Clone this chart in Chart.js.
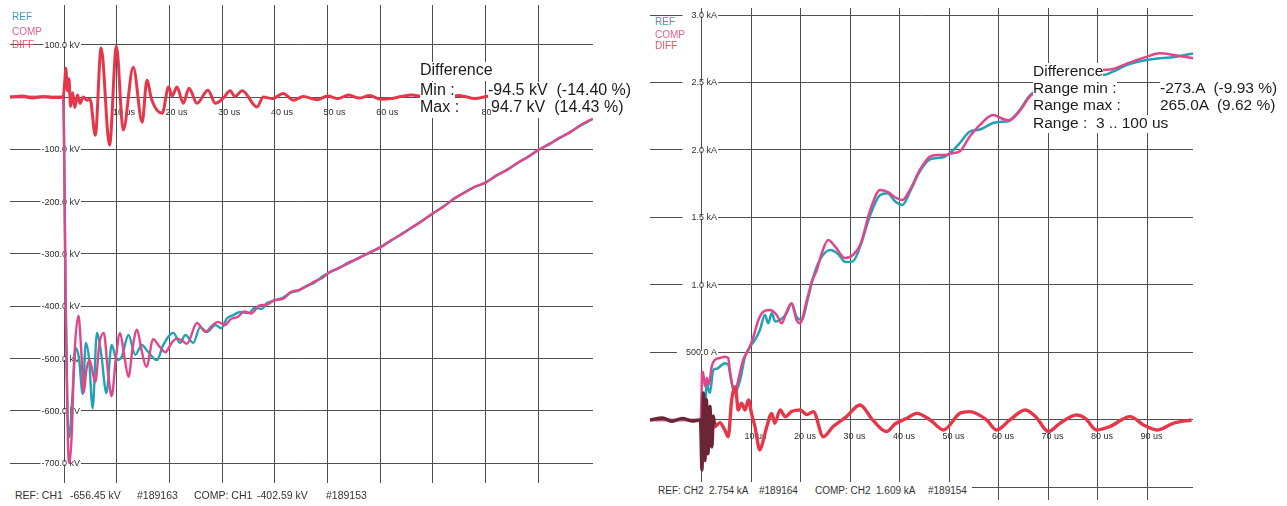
<!DOCTYPE html>
<html><head><meta charset="utf-8">
<script src="https://cdn.jsdelivr.net/npm/chart.js@4.4.1/dist/chart.umd.min.js"></script>
<style>
html,body{margin:0;padding:0;background:#fff;}
body{width:1287px;height:506px;position:relative;overflow:hidden;font-family:"Liberation Sans",Arial,sans-serif;}
canvas{position:absolute;top:0;}
.t{position:absolute;white-space:pre;}
.ann{font-size:16px;line-height:16px;color:#1c1c1c;background:#fff;padding-bottom:3px;}
.ann2{font-size:15.5px;line-height:15.5px;color:#1c1c1c;background:#fff;padding-bottom:2px;}
.foot{font-size:10.5px;line-height:12px;color:#333;background:#fff;}
.foot2{font-size:10px;line-height:12px;color:#333;}
.band{position:absolute;background:#fff;}
.leg{font-size:10px;line-height:10px;}
</style></head><body>
<canvas id="cv" width="640" height="506" style="left:0"></canvas>
<canvas id="ci" width="647" height="506" style="left:640px"></canvas>

<div class="t leg" style="left:12px;top:12px;color:#3f9dc4">REF</div>
<div class="t leg" style="left:12px;top:27px;color:#e0609a">COMP</div>
<div class="t leg" style="left:12px;top:40px;color:#e2575f">DIFF</div>
<div class="t leg" style="left:655px;top:17px;color:#3f9dc4">REF</div>
<div class="t leg" style="left:655px;top:30px;color:#e0609a">COMP</div>
<div class="t leg" style="left:655px;top:41px;color:#e2575f">DIFF</div>

<div class="t ann" style="left:420px;top:62px">Difference</div>
<div class="t ann" style="left:420px;top:82px">Min :</div>
<div class="t ann" style="left:488px;top:82px">-94.5 kV  (-14.40 %)</div>
<div class="t ann" style="left:420px;top:99px">Max :</div>
<div class="t ann" style="left:491px;top:99px">94.7 kV  (14.43 %)</div>

<div class="t ann2" style="left:1033px;top:63px">Difference</div>
<div class="t ann2" style="left:1033px;top:80px">Range min :</div>
<div class="t ann2" style="left:1160px;top:80px">-273.A  (-9.93 %)</div>
<div class="t ann2" style="left:1033px;top:97px">Range max :</div>
<div class="t ann2" style="left:1160px;top:97px">265.0A  (9.62 %)</div>
<div class="t ann2" style="left:1033px;top:115px">Range :  3 .. 100 us</div>

<div class="t foot" style="left:15px;top:489px">REF: CH1</div>
<div class="t foot" style="left:70px;top:489px">-656.45 kV</div>
<div class="t foot" style="left:137px;top:489px">#189163</div>
<div class="t foot" style="left:194px;top:489px">COMP: CH1</div>
<div class="t foot" style="left:257px;top:489px">-402.59 kV</div>
<div class="t foot" style="left:326px;top:489px">#189153</div>
<div class="band" style="left:650px;top:482px;width:322px;height:24px"></div>
<div class="t foot2" style="left:658px;top:485px">REF: CH2</div>
<div class="t foot2" style="left:709px;top:485px">2.754 kA</div>
<div class="t foot2" style="left:759px;top:485px">#189164</div>
<div class="t foot2" style="left:815px;top:485px">COMP: CH2</div>
<div class="t foot2" style="left:876px;top:485px">1.609 kA</div>
<div class="t foot2" style="left:928px;top:485px">#189154</div>

<script>
// ---------- data: left panel (voltage, kV vs time, us) ----------
const voltTimeTicks = [0,10,20,30,40,50,60,70,80,90];
const voltTimeLabels = ['', '10 us','20 us','30 us','40 us','50 us','60 us','70 us','80 us','90 us'];
const voltTicks = [100,0,-100,-200,-300,-400,-500,-600,-700];
const voltTickLabels = ['100.0 kV','','-100.0 kV','-200.0 kV','-300.0 kV','-400.0 kV','-500.0 kV','-600.0 kV','-700.0 kV'];

const refVoltage = [[-10.3,0],[-0.2,0],[0.2,-320],[0.6,-600],[1.0,-650],[1.5,-580],[2.2,-480],[2.8,-500],[3.5,-568],[4.1,-470],[4.7,-500],[5.4,-595],[6.2,-451],[7.0,-490],[8.0,-566],[9.0,-474],[10.0,-503],[10.9,-497],[12.2,-455],[13.5,-493],[14.7,-474],[15.9,-487],[17.6,-503],[18.8,-474],[20.7,-451],[22.0,-470],[23.0,-455],[24.5,-470],[25.8,-440],[27.1,-449],[28.7,-436],[29.8,-442],[30.9,-423],[32.1,-417],[33.4,-411],[35.0,-413],[36.2,-403],[37.5,-405],[38.5,-394],[40.0,-389],[41.5,-384],[43.0,-374],[44.5,-370],[46.0,-361],[47.5,-355],[49.0,-343],[50.5,-335],[52,-327],[54,-318],[56,-307],[58,-298],[60,-287],[62,-275],[64,-262],[66,-250],[68,-236],[70,-223],[72,-209],[74,-195],[76,-182],[78,-172],[80,-163],[82,-151],[84,-139],[86,-127],[88,-114],[90,-102],[92,-90],[94,-79],[96,-67],[98,-55],[100.4,-42]];

const compVoltage = [[-10.3,0],[-0.2,0],[0.3,-420],[0.7,-660],[1.0,-700],[1.4,-650],[1.9,-500],[2.7,-418],[3.2,-480],[3.7,-566],[4.2,-522],[4.8,-503],[5.9,-545],[6.7,-470],[7.5,-451],[8.3,-525],[9.0,-572],[9.8,-500],[10.6,-451],[11.4,-495],[12.2,-535],[13.0,-478],[13.8,-445],[14.7,-485],[15.6,-516],[16.9,-463],[18.0,-476],[19.2,-488],[20.4,-470],[21.4,-462],[22.3,-465],[23.3,-472],[25.2,-432],[26.8,-449],[28.0,-438],[29.2,-430],[30.5,-436],[31.6,-425],[33.0,-420],[34.2,-410],[35.5,-414],[37.0,-399],[38.5,-397],[40.0,-388],[41.5,-386],[43.0,-373],[44.5,-369],[46.0,-362],[47.5,-353],[49.0,-346],[50.5,-334],[52,-328],[54,-316],[56,-308],[58,-297],[60,-288],[62,-274],[64,-263],[66,-249],[68,-237],[70,-222],[72,-210],[74,-194],[76,-183],[78,-171],[80,-164],[82,-150],[84,-140],[86,-126],[88,-115],[90,-101],[92,-91],[94,-78],[96,-68],[98,-54],[100.4,-41]];

const diffVoltage = [[-10.3,0],[-8,2],[-6,-2],[-4,1],[-2,-1],[-0.2,0],[0.1,30],[0.3,55],[0.6,12],[0.9,35],[1.2,-18],[1.6,8],[2.0,-20],[2.5,4],[3.0,-12],[3.6,0],[4.3,-6],[4.9,-4],[5.9,-73],[7.0,94],[8.6,-92],[9.9,97],[11.2,-63],[13.1,57],[14.8,-48],[15.7,32],[16.6,-5],[18.6,-31],[19.8,19],[20.5,2],[21.4,19],[22.6,-12],[23.7,17],[25.2,-12],[27.3,13],[28.7,-12],[30.2,-2],[31.5,12],[32.4,1],[33.8,12],[36.6,-19],[37.8,0],[39.5,-3],[41.6,7],[43.5,-6],[45.4,1],[48,-5],[50,2],[52,-3],[54,4],[56,-2],[58,3],[60,-4],[62,-3],[64,1],[66,4],[68,1],[70,4],[72,-2],[75,3],[78,-3],[81,2],[84,-2],[87,3],[90,-1],[93,2],[96,-2],[100.4,1]];

// ---------- data: right panel (current, A vs time, us) ----------
const currTimeTicks = [0,10,20,30,40,50,60,70,80,90];
const currTimeLabels = ['', '10 us','20 us','30 us','40 us','50 us','60 us','70 us','80 us','90 us'];
const currTicks = [3000,2500,2000,1500,1000,500,0,-500];
const currTickLabels = ['3.0 kA','2.5 kA','2.0 kA','1.5 kA','1.0 kA','500.0 A','',''];

const refCurrent = [[-10.5,0],[-0.3,0],[0.0,-200],[0.3,150],[0.6,-100],[0.9,272],[1.6,200],[2.3,370],[3.0,380],[3.6,395],[4.6,420],[5.3,410],[6.0,272],[6.7,200],[7.7,296],[8.7,469],[9.7,543],[10.7,593],[11.7,667],[12.7,778],[13.4,716],[14.1,790],[14.8,730],[15.8,741],[17.1,790],[18.1,864],[19.1,765],[20.1,741],[21.5,914],[22.5,1062],[23.8,1185],[25.9,1259],[27.5,1230],[29.0,1170],[30.5,1175],[32,1290],[34,1519],[36,1667],[37.5,1680],[39,1620],[40.5,1593],[42,1690],[44,1840],[46,1930],[47.5,1941],[49,1950],[50.5,1990],[52.1,2052],[54.1,2136],[56,2150],[58.8,2200],[60.8,2210],[62,2215],[64.2,2296],[66.3,2407],[70,2470],[75,2520],[78,2560],[81,2555],[83,2580],[85.8,2630],[89.8,2667],[92.5,2680],[95.9,2691],[99.2,2716]];

const compCurrent = [[-10.5,0],[-0.3,0],[-0.1,150],[0.0,346],[0.2,356],[0.6,250],[1.0,310],[1.4,260],[1.96,395],[2.6,444],[3.6,459],[4.6,469],[5.3,459],[5.7,348],[6.7,200],[7.2,274],[8.3,444],[9.4,519],[10.4,617],[11.4,741],[12.4,802],[13.7,815],[15.1,778],[16.1,716],[17.1,802],[18.1,864],[19.1,741],[19.8,716],[21.2,889],[22.2,1025],[23.2,1111],[24.2,1235],[25.5,1333],[27,1280],[28.9,1200],[30.5,1222],[32,1300],[34,1556],[36,1704],[37.5,1690],[39,1650],[40.5,1630],[42,1704],[44,1852],[46,1950],[47.5,1963],[49,1963],[50.5,1975],[52.1,1990],[54.1,2100],[56,2180],[58.8,2259],[60.8,2230],[62,2220],[64.2,2290],[66.3,2400],[70,2480],[75,2500],[78,2580],[81,2593],[83,2600],[85.8,2640],[89.8,2690],[92.5,2716],[95.9,2700],[99.2,2680]];

const diffCurrent = [[-10.5,0],[-8,15],[-6,-10],[-4,12],[-2,-8],[-0.3,0],[0.0,-370],[0.3,200],[0.6,-300],[0.9,150],[1.2,-250],[1.6,100],[2.0,-200],[2.3,30],[2.6,-50],[3.6,-20],[4.6,-74],[5.3,-124],[6.0,148],[6.7,246],[7.0,173],[7.3,74],[8.0,124],[8.7,74],[9.4,148],[10.0,49],[10.7,-49],[11.7,-222],[12.4,-148],[13.1,-49],[14.1,49],[14.7,-24],[15.8,74],[16.8,24],[18.1,62],[19.8,74],[21.2,40],[22.5,62],[24.5,-124],[26.5,-49],[29.2,25],[31.9,111],[34.5,0],[37.3,-86],[39,-30],[41.4,12],[43.4,49],[46.1,0],[48.8,-74],[52.1,49],[54.1,62],[57.5,0],[59.5,-74],[62.2,0],[65.3,74],[67.5,20],[70,-86],[72.3,-25],[75.7,37],[77.5,10],[79.7,-74],[82.4,-49],[86.5,25],[89.2,-37],[91.9,-74],[95.2,-25],[98.9,0]];

// ---------- rendering ----------
const REF_COLOR = '#22a2b4', COMP_COLOR = '#e2468a', DIFF_COLOR = '#e6374a';

const scopeLabels = {
  id: 'scopeLabels',
  beforeDatasetsDraw(chart, args, o) {
    const {ctx, scales: {x, y}} = chart;
    ctx.save();
    ctx.font = '9px "Liberation Sans", Arial, sans-serif';
    ctx.textBaseline = 'middle';
    ctx.textAlign = 'right';
    o.yValues.forEach((v, i) => {
      const lab = o.yLabels[i]; if (!lab) return;
      const py = y.getPixelForValue(v);
      const w = ctx.measureText(lab).width;
      ctx.fillStyle = '#fff';
      ctx.fillRect(o.yRight - w - o.gap, py - 1.5, w + o.gap + 1, 3);
      ctx.fillStyle = '#2e2e2e';
      ctx.fillText(lab, o.yRight, py + 0.5);
    });
    ctx.textAlign = 'left';
    const py0 = y.getPixelForValue(0) + o.xLabelDy;
    o.xValues.forEach((v, i) => {
      const lab = o.xLabels[i]; if (!lab) return;
      ctx.fillStyle = '#2e2e2e';
      ctx.fillText(lab, x.getPixelForValue(v) + o.xLabelDx, py0);
    });
    ctx.restore();
  }
};

function makeScope(id, c) {
  return new Chart(document.getElementById(id), {
    type: 'line',
    data: {
      datasets: c.series.map(s => ({
        label: s.label,
        data: s.points.map(p => ({x: p[0], y: p[1]})),
        borderColor: s.color,
        borderWidth: s.width,
        pointRadius: 0,
        cubicInterpolationMode: 'monotone',
        fill: false,
        order: s.order,
        segment: s.dark ? {borderColor: ctx => (ctx.p0.parsed.x < s.darkUntil ? s.dark : undefined)} : {}
      }))
    },
    options: {
      responsive: false, animation: false, devicePixelRatio: 1,
      layout: {padding: c.padding},
      plugins: {legend: {display: false}, tooltip: {enabled: false}, scopeLabels: c.labels},
      scales: {
        x: {type: 'linear', min: c.xMin, max: c.xMax,
            afterBuildTicks: sc => { sc.ticks = c.xGrid.map(v => ({value: v})); },
            ticks: {display: false}, grid: {color: '#4f4f4f', lineWidth: 1, drawTicks: false}, border: {display: false}},
        y: {type: 'linear', min: c.yMin, max: c.yMax,
            afterBuildTicks: sc => { sc.ticks = c.yGrid.map(v => ({value: v})); },
            ticks: {display: false}, grid: {color: '#4f4f4f', lineWidth: 1, drawTicks: false}, border: {display: false}}
      }
    },
    plugins: [scopeLabels]
  });
}

makeScope('cv', {
  padding: {left: 10, top: 5, right: 47, bottom: 23},
  xMin: -10.3, xMax: 100.4, yMin: -738, yMax: 176,
  xGrid: voltTimeTicks, yGrid: voltTicks,
  labels: {yValues: voltTicks, yLabels: voltTickLabels, yRight: 80, gap: 1,
           xValues: voltTimeTicks, xLabels: voltTimeLabels, xLabelDx: -4, xLabelDy: 15},
  series: [
    {label: 'DIFF', points: diffVoltage, color: DIFF_COLOR, width: 3, order: 0},
    {label: 'COMP', points: compVoltage, color: COMP_COLOR, width: 2.4, order: 1},
    {label: 'REF', points: refVoltage, color: REF_COLOR, width: 2.4, order: 2}
  ]
});

makeScope('ci', {
  padding: {left: 10, top: 8, right: 94, bottom: 6},
  xMin: -10.5, xMax: 99.2, yMin: -593, yMax: 3052,
  xGrid: currTimeTicks, yGrid: currTicks,
  labels: {yValues: currTicks, yLabels: currTickLabels, yRight: 77, gap: 9,
           xValues: currTimeTicks, xLabels: currTimeLabels, xLabelDx: -7, xLabelDy: 17},
  series: [
    {label: 'DIFF', points: diffCurrent, color: DIFF_COLOR, width: 3.4, order: 0, dark: '#6a2636', darkUntil: 2.6},
    {label: 'COMP', points: compCurrent, color: COMP_COLOR, width: 2.5, order: 1},
    {label: 'REF', points: refCurrent, color: REF_COLOR, width: 2.5, order: 2}
  ]
});
</script>
</body></html>
